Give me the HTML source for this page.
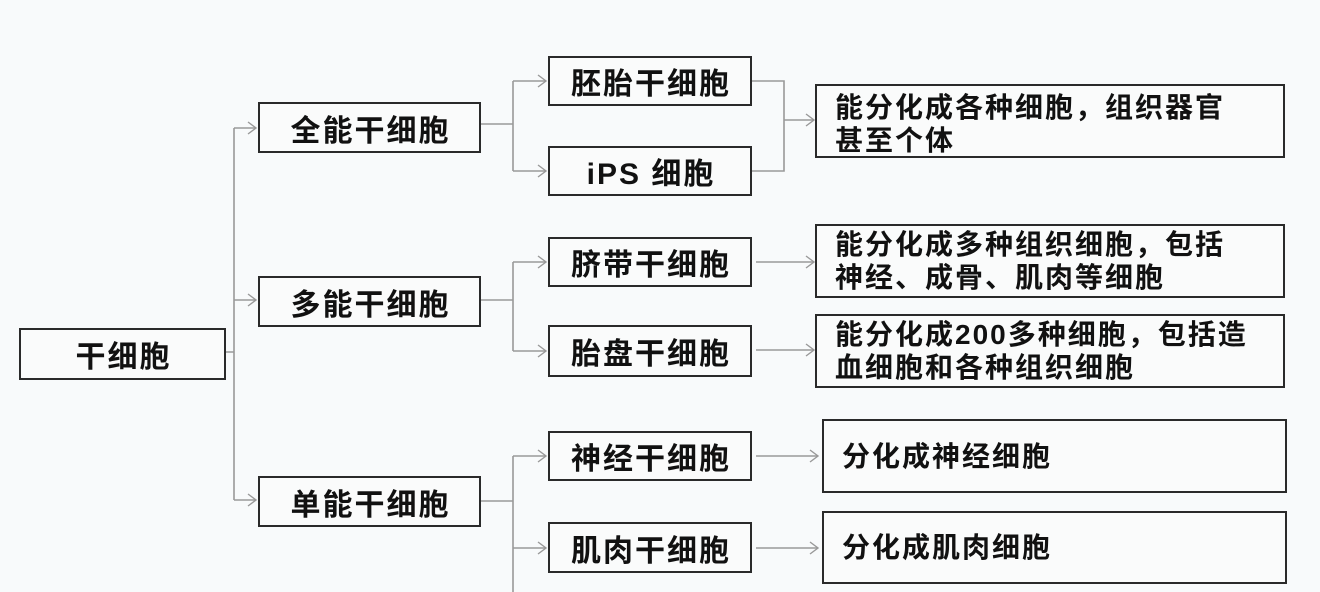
<!DOCTYPE html>
<html><head><meta charset="utf-8"><style>
body{margin:0;width:1320px;height:592px;background:#f8fafb;position:relative;overflow:hidden;font-family:"Liberation Sans","Noto Sans CJK SC",sans-serif;color:#111;}
.b{position:absolute;box-sizing:border-box;border:2.5px solid #2a2a2a;background:#fafbfb;display:flex;align-items:center;justify-content:center;font-size:30px;font-weight:bold;letter-spacing:2px;padding-left:2px;}
.d{justify-content:flex-start;padding-left:18px;font-size:28px;line-height:33px;letter-spacing:2px;}
.t{padding-top:6px;}
svg{position:absolute;left:0;top:0;}
</style></head><body>
<svg width="1320" height="592" fill="none" stroke="#999" stroke-width="1.6">
<path d="M226 352H234M234 128V500M234 128H256M234 300H256M234 500H256"/>
<path d="M481 124H513M513 81V171M513 81H546M513 171H546"/>
<path d="M481 300H513M513 262V351M513 262H546M513 351H546"/>
<path d="M481 501H513M513 456V592M513 456H546M513 548H546"/>
<path d="M752 81H784V171H752M784 120H814"/>
<path d="M756 262H814M756 350H814M756 456H818M756 548H818"/>
<g stroke-width="1.4">
<path d="M248 122L256 128L248 134M248 294L256 300L248 306M248 494L256 500L248 506"/>
<path d="M538 75L546 81L538 87M538 165L546 171L538 177M538 256L546 262L538 268M538 345L546 351L538 357M538 450L546 456L538 462M538 542L546 548L538 554"/>
<path d="M806 114L814 120L806 126M806 256L814 262L806 268M806 344L814 350L806 356M810 450L818 456L810 462M810 542L818 548L810 554"/>
</g>
</svg>
<div class="b" style="left:19px;top:328px;width:207px;height:52px">干细胞</div>
<div class="b" style="left:258px;top:102px;width:223px;height:51px">全能干细胞</div>
<div class="b" style="left:258px;top:276px;width:223px;height:51px">多能干细胞</div>
<div class="b" style="left:258px;top:476px;width:223px;height:51px">单能干细胞</div>
<div class="b" style="left:548px;top:56px;width:204px;height:50px">胚胎干细胞</div>
<div class="b" style="left:548px;top:146px;width:204px;height:50px">iPS 细胞</div>
<div class="b" style="left:548px;top:237px;width:204px;height:50px">脐带干细胞</div>
<div class="b" style="left:548px;top:325px;width:204px;height:52px">胎盘干细胞</div>
<div class="b" style="left:548px;top:431px;width:204px;height:50px">神经干细胞</div>
<div class="b" style="left:548px;top:522px;width:204px;height:51px">肌肉干细胞</div>
<div class="b d t" style="left:815px;top:84px;width:470px;height:74px">能分化成各种细胞，组织器官<br>甚至个体</div>
<div class="b d" style="left:815px;top:224px;width:470px;height:74px">能分化成多种组织细胞，包括<br>神经、成骨、肌肉等细胞</div>
<div class="b d" style="left:815px;top:314px;width:470px;height:74px">能分化成200多种细胞，包括造<br>血细胞和各种组织细胞</div>
<div class="b d" style="left:822px;top:419px;width:465px;height:74px">分化成神经细胞</div>
<div class="b d" style="left:822px;top:511px;width:465px;height:73px">分化成肌肉细胞</div>
</body></html>
